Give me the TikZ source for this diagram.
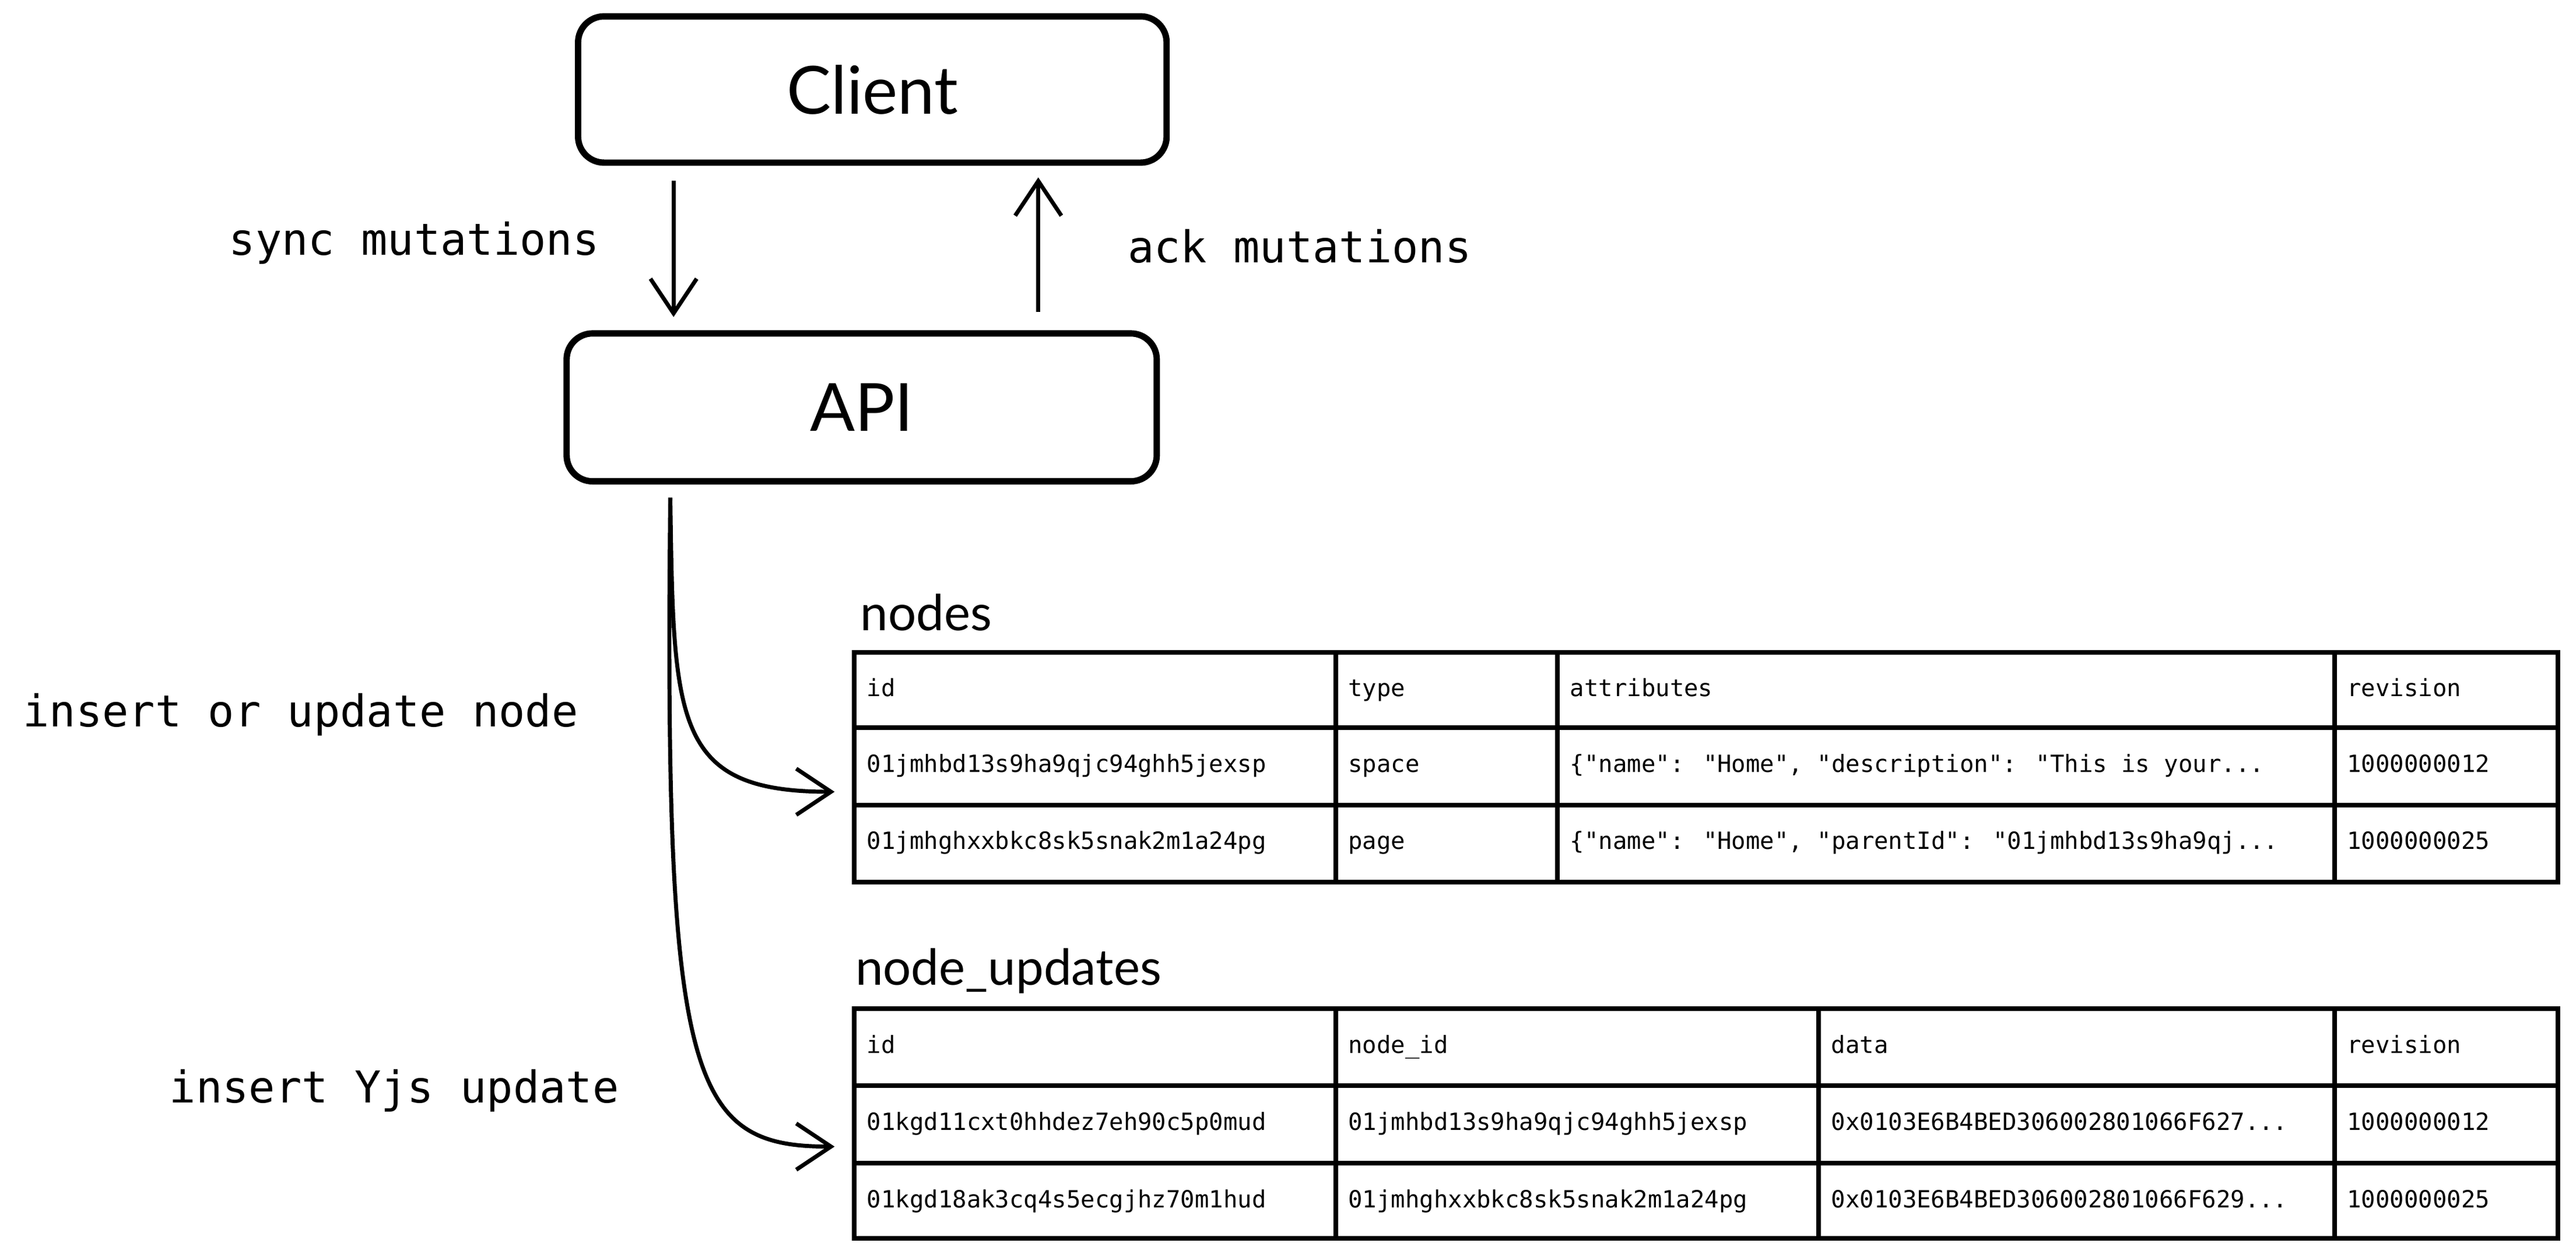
\documentclass[tikz,border=0pt]{standalone}
\usepackage{fontspec}
\setmainfont{Lato}
\newfontfamily\monof{DejaVu Sans Mono}
\usetikzlibrary{arrows.meta}
\begin{document}
\begin{tikzpicture}[x=0.01cm,y=-0.01cm,
 box/.style={draw,line width=1.1pt,rounded corners=4.5pt,font=\fontsize{11.5}{13}\selectfont},
 lbl/.style={font=\monof\fontsize{7.6}{9}\selectfont},
 head/.style={font=\fontsize{8.6}{10}\selectfont,anchor=west,inner sep=0pt},
 cell/.style={font=\monof\fontsize{4.1}{5}\selectfont,anchor=west,inner sep=0pt,text height=3.2pt,text depth=0.9pt,xshift=0.07cm},
 arr/.style={-{Straight Barb[length=6pt,width=8pt]},line width=0.7pt}]
\useasboundingbox (0,0) rectangle (1568,765);
\node[box,minimum width=3.58cm,minimum height=0.89cm] (client) at (531,54.5) {Client};
\node[box,minimum width=3.59cm,minimum height=0.90cm] (api) at (524.5,248) {API};
\coordinate (d1) at (410,110); \coordinate (d2) at (410,193);
\coordinate (u1) at (632,190); \coordinate (u2) at (632,108);
\draw[arr] (d1) -- (d2);
\draw[arr] (u1) -- (u2);
\node[lbl] (sync) at (252,148) {sync mutations};
\node[lbl] (ack) at (791,150) {ack mutations};
\node[lbl] (ins1) at (183,435) {insert or update node};
\node[lbl] (ins2) at (240,664) {insert Yjs update};
\coordinate (s) at (408,303);
\coordinate (t1) at (508,482); \coordinate (t2) at (508,698);
\draw[arr] (s) .. controls (410,440) and (410,482) .. (t1);
\draw[arr] (s) .. controls (404,660) and (420,698) .. (t2);
\node[head] (h1) at (523,373) {nodes};
\node[head] (h2) at (520,591) {node\_updates};
\begin{scope}[line width=0.8pt]
\draw (520,397) rectangle (1557,537);
\foreach \y in {443,490} \draw (520,\y) -- (1557,\y);
\foreach \x in {813,948,1421} \draw (\x,397) -- (\x,537);
\draw (520,614) rectangle (1557,754);
\foreach \y in {661,708} \draw (520,\y) -- (1557,\y);
\foreach \x in {813,1107,1421} \draw (\x,614) -- (\x,754);
\end{scope}
\node[cell] at (520,420) {id};
\node[cell] at (813,420) {type};
\node[cell] at (948,420) {attributes};
\node[cell] at (1421,420) {revision};
\node[cell] at (520,466) {01jmhbd13s9ha9qjc94ghh5jexsp};
\node[cell] at (813,466) {space};
\node[cell] at (948,466) {\{"name": "Home", "description": "This is your...};
\node[cell] at (1421,466) {1000000012};
\node[cell] at (520,513) {01jmhghxxbkc8sk5snak2m1a24pg};
\node[cell] at (813,513) {page};
\node[cell] at (948,513) {\{"name": "Home", "parentId": "01jmhbd13s9ha9qj...};
\node[cell] at (1421,513) {1000000025};
\node[cell] at (520,637) {id};
\node[cell] at (813,637) {node\_id};
\node[cell] at (1107,637) {data};
\node[cell] at (1421,637) {revision};
\node[cell] at (520,684) {01kgd11cxt0hhdez7eh90c5p0mud};
\node[cell] at (813,684) {01jmhbd13s9ha9qjc94ghh5jexsp};
\node[cell] at (1107,684) {0x0103E6B4BED306002801066F627...};
\node[cell] at (1421,684) {1000000012};
\node[cell] at (520,731) {01kgd18ak3cq4s5ecgjhz70m1hud};
\node[cell] at (813,731) {01jmhghxxbkc8sk5snak2m1a24pg};
\node[cell] at (1107,731) {0x0103E6B4BED306002801066F629...};
\node[cell] at (1421,731) {1000000025};
\end{tikzpicture}
\end{document}
